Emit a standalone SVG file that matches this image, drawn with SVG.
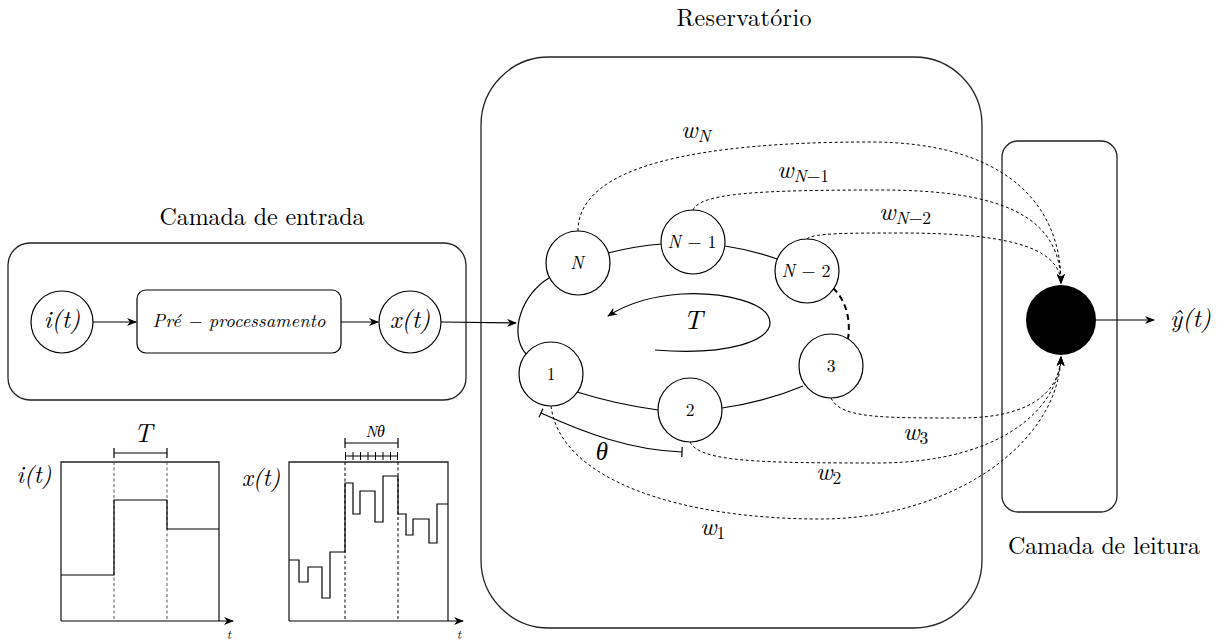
<svg xmlns="http://www.w3.org/2000/svg" width="1224" height="642" viewBox="0 0 1224 642">
<defs>
<style>
.t{font-family:'Latin Modern Roman','Liberation Serif','DejaVu Serif',serif;fill:#000}
.m{font-family:'Latin Modern Roman','Liberation Serif','DejaVu Serif',serif;font-style:italic;fill:#000}
.up{font-style:normal}
.box{fill:none;stroke:#222;stroke-width:1.3}
.node{fill:#fff;stroke:#000;stroke-width:1.2}
.edge{fill:none;stroke:#000;stroke-width:1.2}
.dot{fill:none;stroke:#000;stroke-width:1;stroke-dasharray:3,2.5}
.dash{fill:none;stroke:#555;stroke-width:1;stroke-dasharray:3,2.5}
.sig{fill:none;stroke:#000;stroke-width:1.2}
</style>
<marker id="arr" viewBox="0 0 10 8" refX="9" refY="4" markerWidth="10" markerHeight="8" markerUnits="userSpaceOnUse" orient="auto">
<path d="M0,0 L10,4 L0,8 L3,4 z" fill="#000"/>
</marker>
<marker id="bar" viewBox="0 0 2 10" refX="1" refY="5" markerWidth="2" markerHeight="10" markerUnits="userSpaceOnUse" orient="auto">
<line x1="1" y1="0" x2="1" y2="10" stroke="#000" stroke-width="1.2"/>
</marker>
</defs>
<rect width="1224" height="642" fill="#fff"/>

<!-- titles -->
<text class="t" x="262" y="225" font-size="24" text-anchor="middle" textLength="205">Camada de entrada</text>
<text class="t" x="744" y="26" font-size="24" text-anchor="middle" textLength="135">Reservatório</text>
<text class="t" x="1104" y="554" font-size="24" text-anchor="middle" textLength="192">Camada de leitura</text>

<!-- containers -->
<g id="input-layer">
<rect class="box" x="8" y="243" width="458" height="157" rx="22"/>
</g>
<g id="reservoir">
<rect class="box" x="481" y="57" width="501" height="571" rx="68"/>
</g>
<g id="readout-layer">
<rect class="box" x="1002" y="141" width="115" height="371" rx="16"/>
</g>

<!-- input nodes -->
<g id="node-i">
<circle class="node" cx="62" cy="322" r="31"/>
<text class="m" x="62" y="328" font-size="25" text-anchor="middle">i(t)</text>
</g>
<g id="node-pre">
<rect class="node" x="137" y="290" width="204" height="63" rx="9"/>
<text class="m" x="239" y="327" font-size="18.5" text-anchor="middle" textLength="173">Pré − processamento</text>
</g>
<g id="node-x">
<circle class="node" cx="410" cy="322" r="31"/>
<text class="m" x="410" y="328" font-size="25" text-anchor="middle">x(t)</text>
</g>

<!-- connectors -->
<g id="connectors">
<line class="edge" x1="93" y1="322" x2="136" y2="322" marker-end="url(#arr)"/>
<line class="edge" x1="341" y1="322" x2="378" y2="322" marker-end="url(#arr)"/>
<line class="edge" x1="441" y1="322" x2="516" y2="323" marker-end="url(#arr)"/>
<path class="edge" d="M608 253 Q635 246 662 244"/>
<path class="edge" d="M725 246 Q752 250 777 259"/>
<path class="edge" d="M577 392 Q615 404 658 410"/>
<path class="edge" d="M722 408 Q765 402 803 386"/>
<path class="edge" d="M549 278 C522 294 508 333 526 354"/>
<path d="M833 288 C846 300 851 320 848 339" fill="none" stroke="#000" stroke-width="2" stroke-dasharray="6,4"/>
<path class="edge" d="M655 350 C730 356 770 340 770 323 C770 302 722 292 682 294 C650 296 625 305 608 316" marker-end="url(#arr)"/>
<path class="edge" d="M541 413 C585 433 630 450 682 452" marker-start="url(#bar)" marker-end="url(#bar)"/>
<path class="dot" d="M578 231 C578 165 700 142 870 142 C1000 142 1061 200 1061 283" marker-end="url(#arr)"/>
<path class="dot" d="M693 210 C700 193 760 190 880 190 C1000 190 1060 215 1061 283" marker-end="url(#arr)"/>
<path class="dot" d="M807 239 C812 233 850 233 900 233 C1000 233 1060 245 1061 283" marker-end="url(#arr)"/>
<path class="dot" d="M831 398 C840 418 880 418 960 418 C1040 418 1060 385 1061 357" marker-end="url(#arr)"/>
<path class="dot" d="M690 442 C700 462 760 463 880 463 C1000 462 1058 410 1061 357" marker-end="url(#arr)"/>
<path class="dot" d="M551 406 C560 480 680 519 820 519 C950 519 1058 445 1061 357" marker-end="url(#arr)"/>
<line class="edge" x1="1096" y1="320" x2="1154" y2="320" marker-end="url(#arr)"/>
</g>

<!-- reservoir nodes -->
<g id="node-N">
<circle class="node" cx="578" cy="263" r="32"/>
<text class="m" x="577" y="269" font-size="18" text-anchor="middle">N</text>
</g>
<g id="node-N1">
<circle class="node" cx="693" cy="242" r="32"/>
<text class="m" x="692" y="248" font-size="18" text-anchor="middle">N <tspan class="up">− 1</tspan></text>
</g>
<g id="node-N2">
<circle class="node" cx="807" cy="271" r="32"/>
<text class="m" x="806" y="277" font-size="18" text-anchor="middle">N <tspan class="up">− 2</tspan></text>
</g>
<g id="node-1">
<circle class="node" cx="551" cy="374" r="32"/>
<text class="t" x="551" y="380" font-size="17.5" text-anchor="middle">1</text>
</g>
<g id="node-2">
<circle class="node" cx="690" cy="410" r="32"/>
<text class="t" x="690" y="416" font-size="17.5" text-anchor="middle">2</text>
</g>
<g id="node-3">
<circle class="node" cx="831" cy="366" r="32"/>
<text class="t" x="831" y="372" font-size="17.5" text-anchor="middle">3</text>
</g>
<g id="node-out">
<circle cx="1061" cy="320" r="35" fill="#000"/>
</g>

<!-- labels -->
<text class="m" x="693" y="329" font-size="27" text-anchor="middle">T</text>
<text class="m" x="602" y="460" font-size="25" text-anchor="middle">θ</text>
<text class="m" x="681" y="138" font-size="25">w<tspan font-size="17.5" dy="4">N</tspan></text>
<text class="m" x="777" y="178" font-size="25">w<tspan font-size="17.5" dy="4">N<tspan class="up">−1</tspan></tspan></text>
<text class="m" x="879" y="220" font-size="25">w<tspan font-size="17.5" dy="4">N<tspan class="up">−2</tspan></tspan></text>
<text class="m" x="903" y="440" font-size="25">w<tspan class="up" font-size="17.5" dy="4">3</tspan></text>
<text class="m" x="816" y="480" font-size="25">w<tspan class="up" font-size="17.5" dy="4">2</tspan></text>
<text class="m" x="700" y="535" font-size="25">w<tspan class="up" font-size="17.5" dy="4">1</tspan></text>
<text class="m" x="1170" y="327" font-size="25">ŷ(t)</text>

<!-- plot i(t) -->
<g id="plot-i">
<polyline class="box" points="61,621 61,462 219,462 219,621"/>
<line class="edge" x1="61" y1="621" x2="233" y2="621" marker-end="url(#arr)"/>
<line class="dash" x1="114" y1="462" x2="114" y2="621"/>
<line class="dash" x1="167" y1="462" x2="167" y2="621"/>
<polyline class="sig" points="61,575 114,575 114,500 167,500 167,529 219,529"/>
<path class="edge" d="M114 453 L167 453" marker-start="url(#bar)" marker-end="url(#bar)"/>
<text class="m" x="143" y="442" font-size="26" text-anchor="middle">T</text>
<text class="m" x="34" y="483" font-size="24" text-anchor="middle">i(t)</text>
<text class="m" x="229" y="639" font-size="12" text-anchor="middle">t</text>
</g>

<!-- plot x(t) -->
<g id="plot-x">
<polyline class="box" points="289,621 289,462 448,462 448,621"/>
<line class="edge" x1="289" y1="621" x2="463" y2="621" marker-end="url(#arr)"/>
<line class="dot" x1="345" y1="462" x2="345" y2="621"/>
<line class="dot" x1="398" y1="462" x2="398" y2="621"/>
<polyline class="sig" points="289,560 299,560 299,582 308,582 308,567 322,567 322,598 330,598 330,552 345,552 345,483 353,483 353,514 360,514 360,491 375,491 375,522 383,522 383,476 398,476 398,514 406,514 406,535 413,535 413,519 429,519 429,543 437,543 437,504 448,504"/>
<path class="edge" d="M345 443 L398 443" marker-start="url(#bar)" marker-end="url(#bar)"/>
<line class="edge" x1="345" y1="456" x2="398" y2="456"/>
<path d="M345.5 452 V460 M353 452 V460 M360.5 452 V460 M368 452 V460 M375.5 452 V460 M383 452 V460 M390.5 452 V460 M397.5 452 V460" stroke="#000" stroke-width="1"/>
<text class="m" x="375" y="437" font-size="16" text-anchor="middle">Nθ</text>
<text class="m" x="261" y="486" font-size="24" text-anchor="middle">x(t)</text>
<text class="m" x="459" y="639" font-size="12" text-anchor="middle">t</text>
</g>
</svg>
